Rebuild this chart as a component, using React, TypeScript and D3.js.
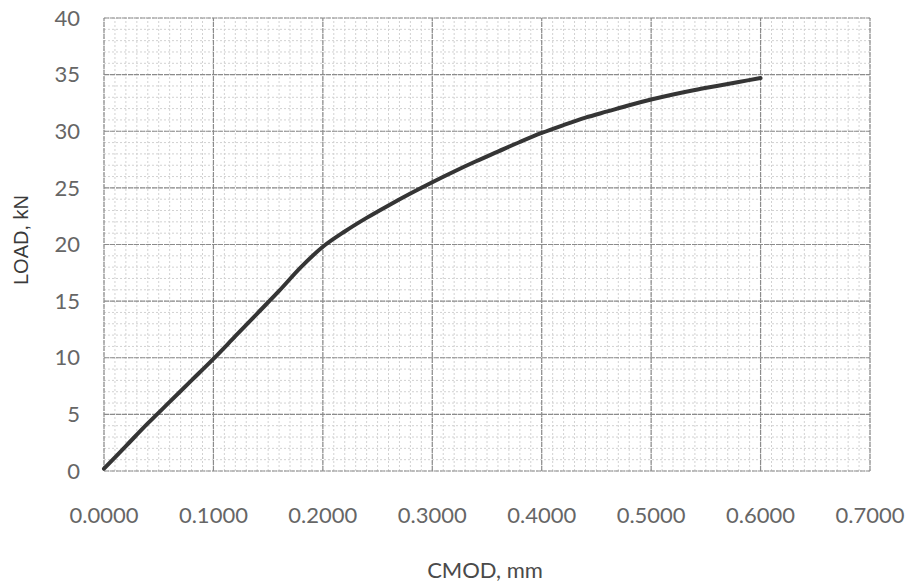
import React, { useEffect, useRef } from "react";
import * as d3 from "d3";

// CMOD (mm) vs LOAD (kN)
const cmod = [
  0, 0.02, 0.04, 0.06, 0.08, 0.1, 0.12, 0.14, 0.16, 0.18, 0.2, 0.22, 0.24, 0.26,
  0.28, 0.3, 0.32, 0.34, 0.36, 0.38, 0.4, 0.42, 0.44, 0.46, 0.48, 0.5, 0.52,
  0.54, 0.56, 0.58, 0.6,
];
const load = [
  0.2, 2.2, 4.2, 6.1, 8.0, 9.9, 11.9, 13.9, 15.9, 18.0, 19.8, 21.15, 22.35,
  23.45, 24.5, 25.5, 26.45, 27.35, 28.2, 29.05, 29.85, 30.55, 31.2, 31.75, 32.3,
  32.8, 33.25, 33.65, 34.0, 34.35, 34.7,
];

const xTicks = [0, 0.1, 0.2, 0.3, 0.4, 0.5, 0.6, 0.7];
const yTicks = [0, 5, 10, 15, 20, 25, 30, 35, 40];
const xMinor = d3.range(0, 0.7001, 0.01);
const yMinor = d3.range(0, 40.001, 1);

const W = 908;
const H = 588;

const LoadChart = () => {
  const ref = useRef<SVGSVGElement | null>(null);

  useEffect(() => {
    const svg = d3.select(ref.current);
    svg.selectAll("*").remove();

    const margin = { top: 18, right: 38, bottom: 117, left: 104 };

    const x = d3
      .scaleLinear()
      .domain([0, 0.7])
      .range([margin.left, W - margin.right]);
    const y = d3
      .scaleLinear()
      .domain([0, 40])
      .range([H - margin.bottom, margin.top]);

    svg.append("rect").attr("width", W).attr("height", H).attr("fill", "#fff");

    // minor grid (light, dashed)
    const minor = svg.append("g").attr("stroke", "#d2d2d2").attr("stroke-width", 1).attr("stroke-dasharray", "2,2");
    minor
      .selectAll("line.vx")
      .data(xMinor)
      .enter()
      .append("line")
      .attr("x1", (d) => x(d))
      .attr("x2", (d) => x(d))
      .attr("y1", y(0))
      .attr("y2", y(40));
    minor
      .selectAll("line.hy")
      .data(yMinor)
      .enter()
      .append("line")
      .attr("x1", x(0))
      .attr("x2", x(0.7))
      .attr("y1", (d) => y(d))
      .attr("y2", (d) => y(d));

    // major grid
    const major = svg.append("g").attr("stroke", "#8c8c8c").attr("stroke-width", 1.2).attr("stroke-dasharray", "5,1");
    major
      .selectAll("line.mx")
      .data(xTicks)
      .enter()
      .append("line")
      .attr("x1", (d) => x(d))
      .attr("x2", (d) => x(d))
      .attr("y1", y(0))
      .attr("y2", y(40));
    major
      .selectAll("line.my")
      .data(yTicks)
      .enter()
      .append("line")
      .attr("x1", x(0))
      .attr("x2", x(0.7))
      .attr("y1", (d) => y(d))
      .attr("y2", (d) => y(d));

    // tick labels
    svg
      .append("g")
      .selectAll("text")
      .data(xTicks)
      .enter()
      .append("text")
      .attr("x", (d) => x(d))
      .attr("y", y(0) + 52)
      .attr("text-anchor", "middle")
      .attr("font-family", "Lato, 'Open Sans', sans-serif")
      .attr("font-size", "22px")
      .attr("fill", "#666")
      .text((d) => d.toFixed(4));

    svg
      .append("g")
      .selectAll("text")
      .data(yTicks)
      .enter()
      .append("text")
      .attr("x", margin.left - 24)
      .attr("y", (d) => y(d))
      .attr("dy", "0.35em")
      .attr("text-anchor", "end")
      .attr("font-family", "Lato, 'Open Sans', sans-serif")
      .attr("font-size", "22px")
      .attr("fill", "#666")
      .text((d) => d);

    // axis titles
    svg
      .append("text")
      .attr("x", 485)
      .attr("y", 578)
      .attr("text-anchor", "middle")
      .attr("font-family", "Lato, 'Open Sans', sans-serif")
      .attr("font-size", "22px")
      .attr("fill", "#4a4a4a")
      .text("CMOD, mm");

    svg
      .append("text")
      .attr("transform", "translate(28, 240) rotate(-90)")
      .attr("text-anchor", "middle")
      .attr("font-family", "'Liberation Sans', Arial, sans-serif")
      .attr("font-size", "20px")
      .attr("fill", "#3a3a3a")
      .text("LOAD, kN");

    // curve
    const pts: [number, number][] = cmod.map((c, i) => [c, load[i]]);
    const line = d3
      .line<[number, number]>()
      .x((d) => x(d[0]))
      .y((d) => y(d[1]))
      .curve(d3.curveCatmullRom);

    svg
      .append("path")
      .datum(pts)
      .attr("d", line)
      .attr("fill", "none")
      .attr("stroke", "#353535")
      .attr("stroke-width", 4)
      .attr("stroke-linecap", "round");
  }, []);

  return (
    <svg
      ref={ref}
      width={W}
      height={H}
      style={{ position: "absolute", left: 0, top: 0 }}
    />
  );
};

export default function App() {
  return <LoadChart />;
}
